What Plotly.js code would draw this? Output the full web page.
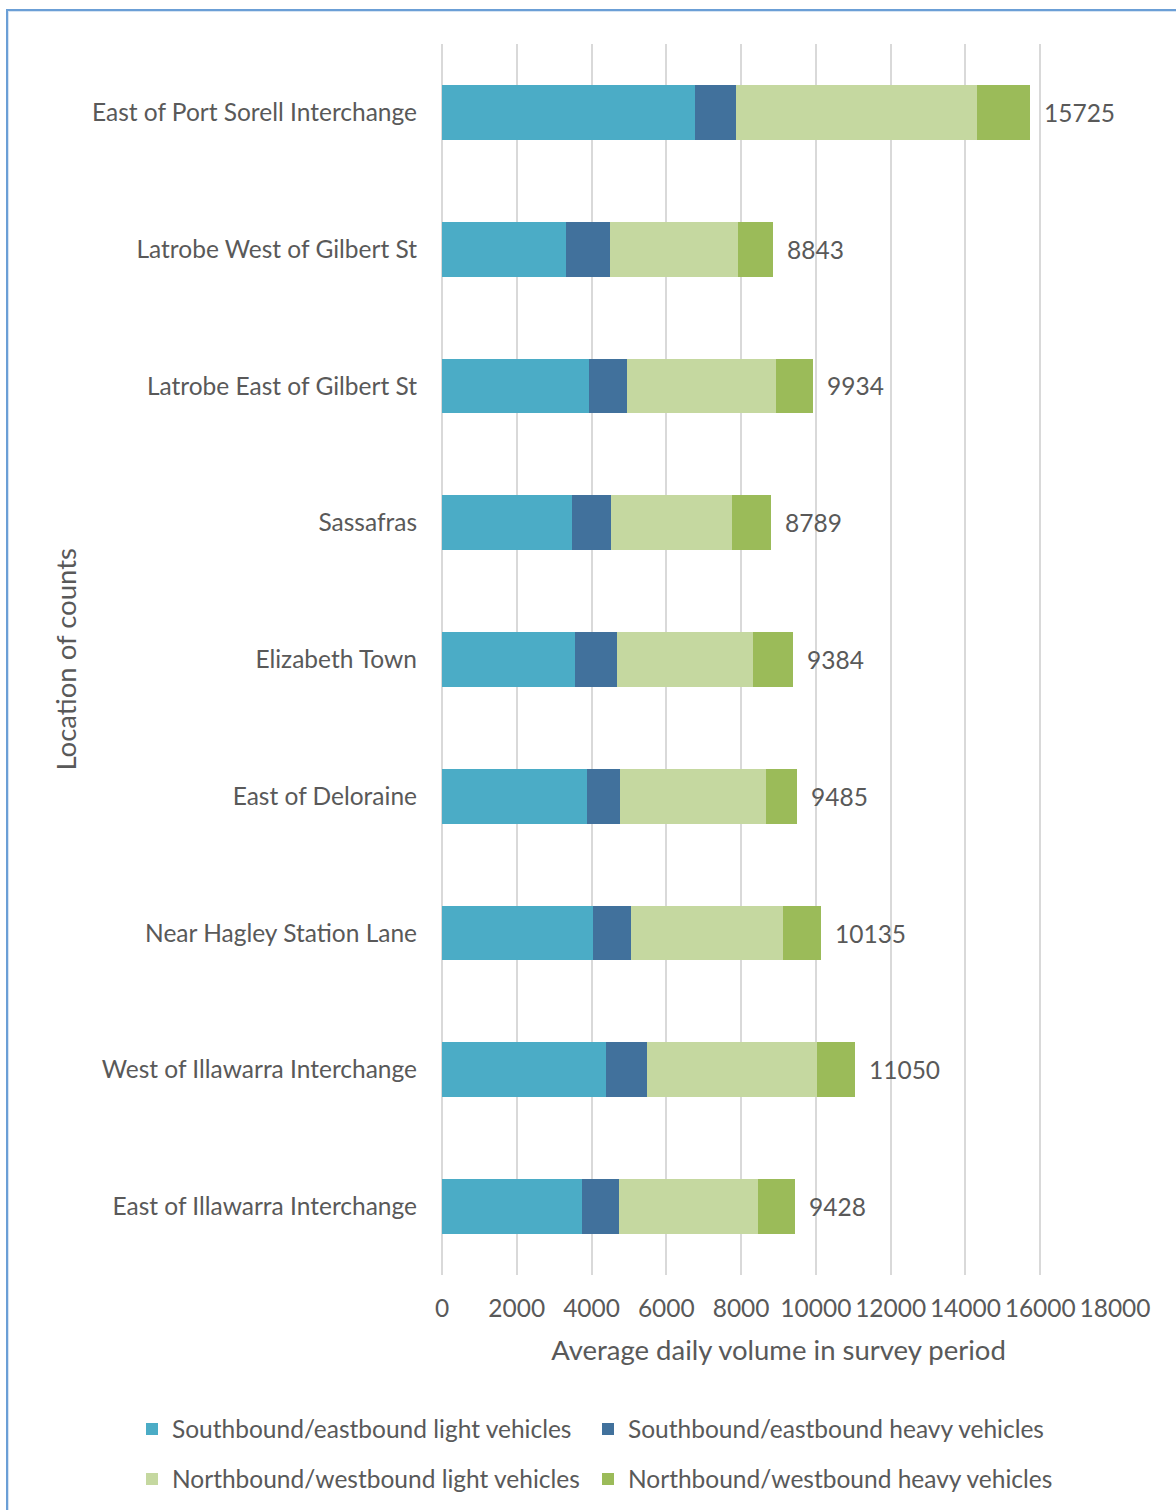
<!DOCTYPE html>
<html>
<head>
<meta charset="utf-8">
<script src="https://cdn.plot.ly/plotly-3.0.1.min.js"></script>
<style>
  html, body { margin: 0; padding: 0; background: #ffffff; }
  #wrap { position: relative; width: 1176px; height: 1510px; overflow: hidden; }
  #chart { position: absolute; left: 0; top: 0; width: 1176px; height: 1510px; }
  #frame { position: absolute; left: 6px; top: 9px; width: 1200px; height: 1600px;
           border-left: 2px solid #6b9fd6; border-top: 2px solid #6b9fd6;
           box-shadow: inset 1px 1px 0 #d6e4f3; pointer-events: none; }
</style>
</head>
<body>
<div id="wrap">
  <div id="chart"></div>
  <div id="frame"></div>
</div>
<script>
const locations = [
  "East of Port Sorell Interchange",
  "Latrobe West of Gilbert St",
  "Latrobe East of Gilbert St",
  "Sassafras",
  "Elizabeth Town",
  "East of Deloraine",
  "Near Hagley Station Lane",
  "West of Illawarra Interchange",
  "East of Illawarra Interchange"
];
const sbLight = [6760, 3320, 3920, 3465, 3560, 3865, 4035, 4385, 3740];
const sbHeavy = [1100, 1175, 1015, 1060, 1120, 900, 1025, 1100, 985];
const nbLight = [6440, 3410, 3990, 3240, 3645, 3895, 4055, 4545, 3720];
const nbHeavy = [1425, 938, 1009, 1024, 1059, 825, 1020, 1020, 983];
const totals = [15725, 8843, 9934, 8789, 9384, 9485, 10135, 11050, 9428];
const xTicks = [0, 2000, 4000, 6000, 8000, 10000, 12000, 14000, 16000, 18000];

const seriesNames = [
  "Southbound/eastbound light vehicles",
  "Southbound/eastbound heavy vehicles",
  "Northbound/westbound light vehicles",
  "Northbound/westbound heavy vehicles"
];
const seriesColors = ["#4BACC6", "#41719C", "#C5D8A0", "#9BBB59"];
const seriesValues = [sbLight, sbHeavy, nbLight, nbHeavy];
const seriesLegend = ["legend", "legend2", "legend3", "legend4"];

const FONT = "Lato, 'Open Sans', sans-serif";
const GREY = "#595959";
const FS = 24.5;

const traces = seriesValues.map((vals, i) => ({
  type: "bar",
  orientation: "h",
  name: seriesNames[i],
  y: locations,
  x: vals,
  width: 0.4,
  marker: { color: seriesColors[i], line: { width: 0 } },
  legend: seriesLegend[i],
  hoverinfo: "x+name"
}));

const annotations = locations.map((loc, i) => ({
  x: totals[i],
  y: loc,
  xref: "x",
  yref: "y",
  text: String(totals[i]),
  showarrow: false,
  xanchor: "left",
  yanchor: "middle",
  xshift: 12,
  font: { family: FONT, size: FS, color: GREY }
}));
annotations.push({
  xref: "paper", yref: "paper",
  x: -(442 - 65) / 673, y: 0.5,
  text: "Location of counts",
  textangle: -90,
  showarrow: false,
  xanchor: "center", yanchor: "middle",
  font: { family: FONT, size: 27.5, color: GREY }
});

function legendAt(xPx, yPx) {
  return {
    orientation: "v",
    xref: "container", yref: "container",
    x: xPx / 1176, y: 1 - yPx / 1510,
    xanchor: "left", yanchor: "middle",
    font: { family: FONT, size: FS, color: GREY },
    itemclick: false, itemdoubleclick: false,
    bgcolor: "rgba(0,0,0,0)",
    borderwidth: 0
  };
}

const layout = {
  width: 1176,
  height: 1510,
  margin: { l: 442, r: 61, t: 44, b: 235, autoexpand: false },
  paper_bgcolor: "#ffffff",
  plot_bgcolor: "#ffffff",
  barmode: "stack",
  font: { family: FONT, size: FS, color: GREY },
  xaxis: {
    range: [0, 18000],
    tickvals: xTicks,
    ticktext: xTicks.map(String),
    showgrid: true,
    gridcolor: "#d9d9d9",
    gridwidth: 2,
    zeroline: true,
    zerolinecolor: "#d9d9d9",
    zerolinewidth: 2,
    showline: false,
    ticks: "",
    ticklabelstandoff: 16,
    tickfont: { family: FONT, size: FS, color: GREY },
    title: { text: "Average daily volume in survey period", font: { family: FONT, size: 27.5, color: GREY }, standoff: 20 },
    automargin: false,
    fixedrange: true
  },
  yaxis: {
    type: "category",
    categoryorder: "array",
    categoryarray: locations,
    autorange: "reversed",
    showgrid: false,
    zeroline: false,
    showline: false,
    ticks: "",
    ticklabelstandoff: 24,
    tickfont: { family: FONT, size: FS, color: GREY },
    automargin: false,
    fixedrange: true
  },
  showlegend: true,
  legend: legendAt(132, 1429),
  legend2: legendAt(588, 1429),
  legend3: legendAt(132, 1479),
  legend4: legendAt(588, 1479),
  annotations: annotations
};

Plotly.newPlot("chart", traces, layout, { displayModeBar: false, staticPlot: true });
</script>
</body>
</html>
